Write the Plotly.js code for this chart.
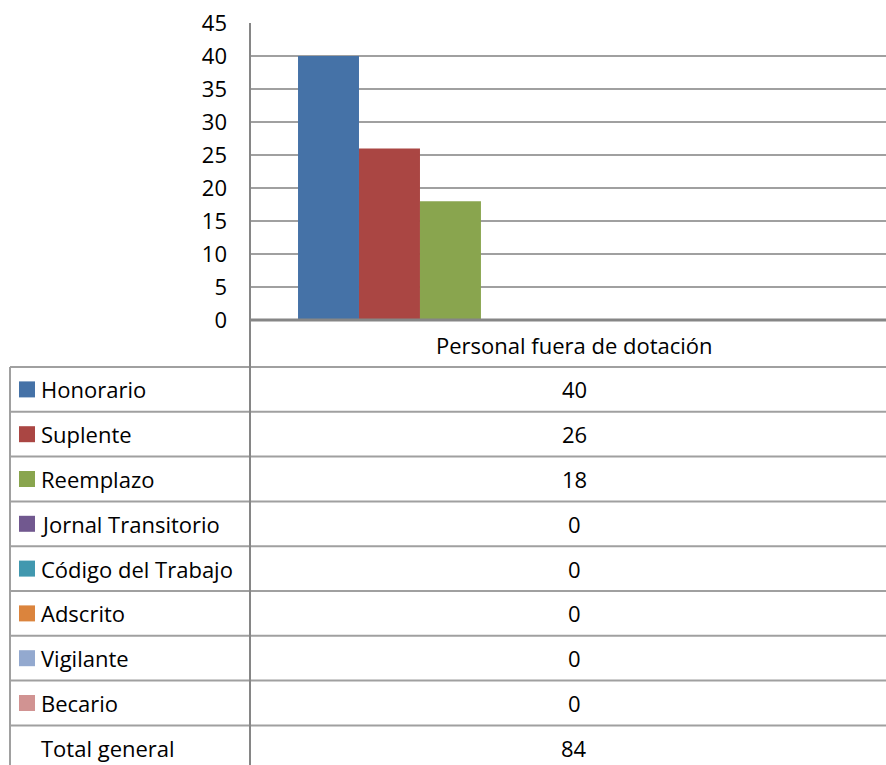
<!DOCTYPE html>
<html><head><meta charset="utf-8">
<script src="https://cdn.plot.ly/plotly-3.0.1.min.js"></script>
<style>html,body{margin:0;padding:0;background:#fff}#chart{width:886px;height:765px}</style>
</head><body><div id="chart"></div>
<script>
const category = ["Personal fuera de dotación"];
const seriesNames = ["Honorario","Suplente","Reemplazo","Jornal Transitorio","Código del Trabajo","Adscrito","Vigilante","Becario"];
const seriesValues = [40, 26, 18, 0, 0, 0, 0, 0];
const seriesColors = ["#4572A7","#AA4643","#89A54E","#71588F","#4198AF","#DB843D","#93A9CF","#D19392"];
const totalLabel = "Total general";
const yTickVals = [0, 5, 10, 15, 20, 25, 30, 35, 40, 45];

const W = 886, H = 765;
const L = 250, R = 886, T = 23, B = 320;
const FONT = "'Open Sans', Lato, sans-serif";
const FS = 22;
const px2x = p => (p - L) / (R - L);
const py2y = p => (B - p) / (B - T);

const traces = seriesNames.map((n, i) => ({
  type: 'bar', name: n, x: category, y: [seriesValues[i]],
  marker: {color: seriesColors[i], line: {width: 0}}, hoverinfo: 'skip'
}));

const shapes = [];
const annotations = [];
const gridC = '#a0a0a0', axisC = '#868686';
const rowTop = 367, rowH = 44.8;
const nRows = seriesNames.length + 1;
for (let i = 0; i <= nRows; i++) {
  const y = rowTop + i * rowH;
  if (y > H + 2) break;
  shapes.push({type: 'line', xref: 'paper', yref: 'paper', x0: px2x(10), x1: px2x(R + 20), y0: py2y(y), y1: py2y(y), line: {color: gridC, width: 2}});
}
shapes.push({type: 'line', xref: 'paper', yref: 'paper', x0: px2x(10), x1: px2x(10), y0: py2y(rowTop), y1: py2y(H + 5), line: {color: gridC, width: 2}});
shapes.push({type: 'line', xref: 'paper', yref: 'paper', x0: px2x(L), x1: px2x(L), y0: py2y(T), y1: py2y(H + 5), line: {color: axisC, width: 2}});
shapes.push({type: 'line', xref: 'paper', yref: 'paper', x0: px2x(L), x1: px2x(R + 20), y0: py2y(B), y1: py2y(B), line: {color: axisC, width: 3}});

annotations.push({xref: 'paper', yref: 'paper', x: px2x(574), y: py2y(345), text: category[0], showarrow: false, xanchor: 'center', yanchor: 'middle', font: {family: FONT, size: FS, color: '#000'}});

const total = seriesValues.reduce((a, b) => a + b, 0);
const rowLabels = seriesNames.concat([totalLabel]);
const rowValues = seriesValues.concat([total]);
rowLabels.forEach((lab, i) => {
  const yc = rowTop + (i + 0.5) * rowH;
  if (i < seriesNames.length) {
    shapes.push({type: 'rect', xref: 'paper', yref: 'paper', x0: px2x(19), x1: px2x(35), y0: py2y(yc - 8), y1: py2y(yc + 8), fillcolor: seriesColors[i], line: {width: 0}});
  }
  annotations.push({xref: 'paper', yref: 'paper', x: px2x(39), y: py2y(yc), text: lab, showarrow: false, xanchor: 'left', yanchor: 'middle', font: {family: FONT, size: FS, color: '#000'}});
  annotations.push({xref: 'paper', yref: 'paper', x: px2x(574), y: py2y(yc), text: String(rowValues[i]), showarrow: false, xanchor: 'center', yanchor: 'middle', font: {family: FONT, size: FS, color: '#000'}});
});

const layout = {
  width: W, height: H, autosize: false,
  margin: {l: L, r: W - R, t: T, b: H - B, pad: 0},
  paper_bgcolor: '#fff', plot_bgcolor: '#fff',
  showlegend: false,
  barmode: 'group', bargap: 0.233, bargroupgap: 0,
  xaxis: {type: 'category', range: [-0.459, 0.541], showticklabels: false, showgrid: false, zeroline: false, showline: false, ticks: '', fixedrange: true},
  yaxis: {range: [0, 45], tickvals: yTickVals, ticktext: yTickVals.map(String), showgrid: true, gridcolor: gridC, gridwidth: 1.5, zeroline: false, showline: false, ticks: '', ticklabelstandoff: 22, tickfont: {family: FONT, size: FS, color: '#000'}, fixedrange: true},
  shapes: shapes, annotations: annotations,
  font: {family: FONT, size: FS, color: '#000'}
};
Plotly.newPlot('chart', traces, layout, {displayModeBar: false, staticPlot: true});
</script></body></html>
